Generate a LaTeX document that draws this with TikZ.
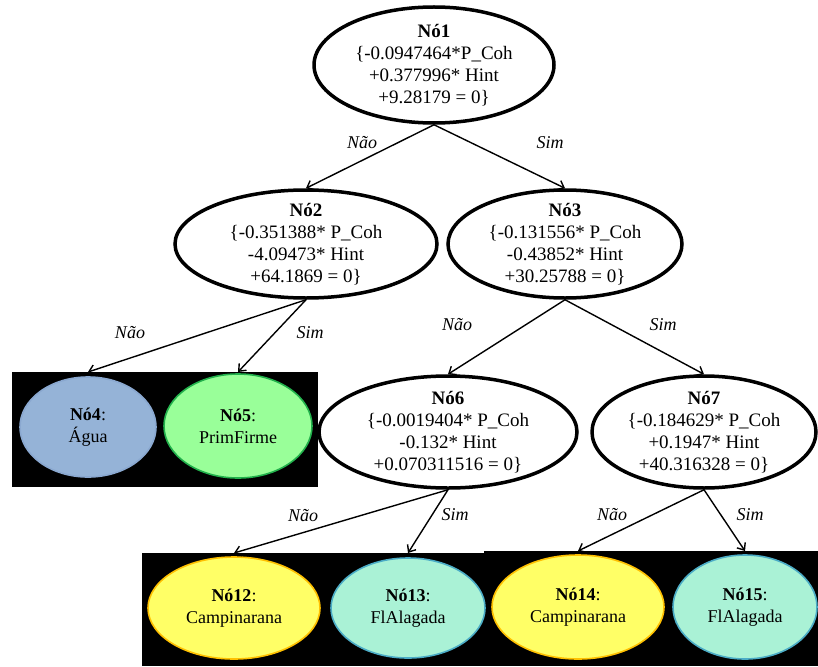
\documentclass[tikz,border=0pt]{standalone}
\usepackage{fontspec}
\setmainfont{Liberation Serif}
\usetikzlibrary{shapes.geometric,arrows.meta}
\definecolor{aguafill}{HTML}{95B3D7}
\definecolor{agualine}{HTML}{8AA8D0}
\definecolor{primfill}{HTML}{99FF99}
\definecolor{primline}{HTML}{22B14C}
\definecolor{campfill}{HTML}{FFFF66}
\definecolor{campline}{HTML}{FFC000}
\definecolor{flfill}{HTML}{AAF2D6}
\definecolor{flline}{HTML}{4BACC6}
\tikzset{
  inode/.style={ellipse, draw=black, line width=3.5pt, inner sep=0pt},
  itext/.style={align=center, font=\fontsize{19}{22}\selectfont, inner sep=0pt},
  leaf/.style={ellipse, line width=1.6pt, inner sep=0pt, align=center, font=\fontsize{18}{22}\selectfont},
  lbl/.style={font=\fontsize{18}{22}\selectfont\itshape, inner sep=0pt},
  edgearrow/.style={line width=1.4pt, -{Straight Barb[length=6pt,width=10pt]}},
  blk/.style={fill=black, draw=none, inner sep=0pt, anchor=north west}
}
\begin{document}
\begin{tikzpicture}[x=1pt,y=-1pt]
\useasboundingbox (0,0) rectangle (818,666);
% black backgrounds
\node[blk, minimum width=306pt, minimum height=115pt] (boxA) at (12,372) {};
\node[blk, minimum width=345pt, minimum height=113pt] (boxB) at (142,553) {};
\node[blk, minimum width=334pt, minimum height=115pt] (boxC) at (484,551) {};
% internal nodes
\node[inode, minimum width=240pt, minimum height=116pt] (n1) at (434,65) {};
\node[itext] (n1t) at (n1.center) {\textbf{Nó1}\\\{-0.0947464*P\_Coh\\+0.377996* Hint\\+9.28179 = 0\}};
\node[inode, minimum width=262pt, minimum height=108pt] (n2) at (306,244) {};
\node[itext] (n2t) at (n2.center) {\textbf{Nó2}\\\{-0.351388* P\_Coh\\-4.09473* Hint\\+64.1869 = 0\}};
\node[inode, minimum width=234pt, minimum height=108pt] (n3) at (565,244) {};
\node[itext] (n3t) at (n3.center) {\textbf{Nó3}\\\{-0.131556* P\_Coh\\-0.43852* Hint\\+30.25788 = 0\}};
\node[inode, minimum width=258pt, minimum height=112pt] (n6) at (448,432) {};
\node[itext] (n6t) at (n6.center) {\textbf{Nó6}\\\{-0.0019404* P\_Coh\\-0.132* Hint\\+0.070311516 = 0\}};
\node[inode, minimum width=224pt, minimum height=112pt] (n7) at (704,432) {};
\node[itext] (n7t) at (n7.center) {\textbf{Nó7}\\\{-0.184629* P\_Coh\\+0.1947* Hint\\+40.316328 = 0\}};
% leaves
\node[leaf, fill=aguafill, draw=agualine, minimum width=136pt, minimum height=100pt] (n4) at (88,427) {\textbf{Nó4}:\\Água};
\node[leaf, fill=primfill, draw=primline, minimum width=148pt, minimum height=104pt] (n5) at (238,426) {\textbf{Nó5}:\\PrimFirme};
\node[leaf, fill=campfill, draw=campline, minimum width=172pt, minimum height=102pt] (n12) at (234,608) {\textbf{Nó12}:\\Campinarana};
\node[leaf, fill=flfill, draw=flline, minimum width=154pt, minimum height=100pt] (n13) at (408,608) {\textbf{Nó13}:\\FlAlagada};
\node[leaf, fill=campfill, draw=campline, minimum width=172pt, minimum height=104pt] (n14) at (578,607) {\textbf{Nó14}:\\Campinarana};
\node[leaf, fill=flfill, draw=flline, minimum width=144pt, minimum height=104pt] (n15) at (745,607) {\textbf{Nó15}:\\FlAlagada};
% edges
\draw[edgearrow] (n1.south) -- (n2.north);
\draw[edgearrow] (n1.south) -- (n3.north);
\draw[edgearrow] (n2.south) -- (n4.north |- boxA.north);
\draw[edgearrow] (n2.south) -- (n5.north |- boxA.north);
\draw[edgearrow] (n3.south) -- (n6.north);
\draw[edgearrow] (n3.south) -- (n7.north);
\draw[edgearrow] (n6.south) -- (n12.north |- boxB.north);
\draw[edgearrow] (n6.south) -- (n13.north |- boxB.north);
\draw[edgearrow] (n7.south) -- (n14.north |- boxC.north);
\draw[edgearrow] (n7.south) -- (n15.north |- boxC.north);
% labels
\node[lbl] (l12) at (362,143) {Não};
\node[lbl] (l13) at (550,143) {Sim};
\node[lbl] (l24) at (130,333) {Não};
\node[lbl] (l25) at (310,333) {Sim};
\node[lbl] (l36) at (457,325) {Não};
\node[lbl] (l37) at (663,325) {Sim};
\node[lbl] (l612) at (303,516) {Não};
\node[lbl] (l613) at (455,515) {Sim};
\node[lbl] (l714) at (612,515) {Não};
\node[lbl] (l715) at (750,515) {Sim};
\end{tikzpicture}
\end{document}
